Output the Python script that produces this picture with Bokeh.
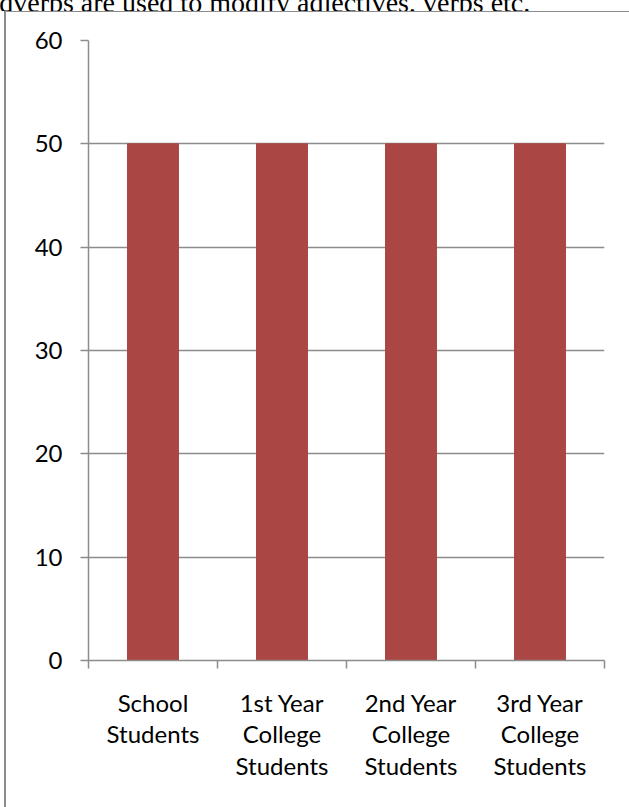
from bokeh.plotting import figure
from bokeh.layouts import column
from bokeh.models import Range1d, FixedTicker, LinearAxis, Grid, Div
from bokeh.embed import file_html
from bokeh.resources import INLINE

# data
categories = ["School\nStudents", "1st Year\nCollege\nStudents",
              "2nd Year\nCollege\nStudents", "3rd Year\nCollege\nStudents"]
values = [50, 50, 50, 50]
y_ticks = [0, 10, 20, 30, 40, 50, 60]
caption = "Adverbs are used to modify adjectives, verbs etc."

FONT = "Lato"
GRAY = "#8c8c8c"

centers = [i + 0.5 for i in range(len(categories))]
bounds = list(range(len(categories) + 1))

header = Div(
    text=('<div style="font-family:\'Liberation Serif\';font-size:28px;line-height:28px;'
          'white-space:nowrap;margin-left:-21px;margin-top:-18px;color:black">'
          + caption + '</div>'),
    width=629, height=11,
    styles={"overflow": "hidden", "margin": "0", "padding": "0"},
)

p = figure(width=629, height=796, output_backend="svg", toolbar_location=None,
           x_range=Range1d(0, len(categories)), y_range=Range1d(0, 60),
           min_border_left=88, min_border_right=25, min_border_top=29,
           min_border_bottom=147, x_axis_type=None, y_axis_type=None)
p.outline_line_color = None
p.border_fill_alpha = 0
p.background_fill_color = "white"
p.styles = {
    "background": (f"linear-gradient({GRAY},{GRAY}) 4px 0px / 2px 796px no-repeat, "
                   f"linear-gradient({GRAY},{GRAY}) 4px 0px / 625px 1px no-repeat, white"),
}

yaxis = LinearAxis(ticker=FixedTicker(ticks=y_ticks))
yaxis.axis_line_color = GRAY
yaxis.axis_line_width = 1.5
yaxis.major_tick_line_color = GRAY
yaxis.major_tick_line_width = 1.5
yaxis.major_tick_out = 8
yaxis.major_tick_in = 0
yaxis.minor_tick_line_color = None
yaxis.major_label_standoff = 18
yaxis.major_label_text_font = FONT
yaxis.major_label_text_font_size = "24px"
yaxis.major_label_text_color = "black"
p.add_layout(yaxis, "left")

xaxis = LinearAxis(ticker=FixedTicker(ticks=centers, minor_ticks=bounds))
xaxis.major_label_overrides = {c: lab for c, lab in zip(centers, categories)}
xaxis.axis_line_color = GRAY
xaxis.axis_line_width = 1.5
xaxis.major_tick_line_color = None
xaxis.major_tick_out = 0
xaxis.major_tick_in = 0
xaxis.minor_tick_line_color = GRAY
xaxis.minor_tick_line_width = 1.5
xaxis.minor_tick_out = 8
xaxis.minor_tick_in = 0
xaxis.major_label_standoff = 19
xaxis.major_label_text_font = FONT
xaxis.major_label_text_font_size = "24px"
xaxis.major_label_text_color = "black"
xaxis.major_label_text_line_height = 1.1
p.add_layout(xaxis, "below")

grid = Grid(dimension=1, ticker=FixedTicker(ticks=y_ticks),
            grid_line_color=GRAY, grid_line_width=1.5)
p.add_layout(grid)

p.vbar(x=centers, top=values, width=0.395, color="#AA4643")

layout = column(header, p, spacing=0)

open("out.html", "w").write(file_html(layout, INLINE))
